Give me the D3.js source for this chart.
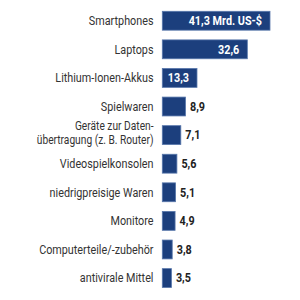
<!DOCTYPE html>
<html><head><meta charset="utf-8">
<script src="https://cdn.jsdelivr.net/npm/d3@7"></script>
<style>html,body{margin:0;padding:0;background:#fff;}svg{display:block;}</style>
</head><body>
<script>
const categories = [
  ["Smartphones"],
  ["Laptops"],
  ["Lithium-Ionen-Akkus"],
  ["Spielwaren"],
  ["Geräte zur Daten-", "übertragung (z. B. Router)"],
  ["Videospielkonsolen"],
  ["niedrigpreisige Waren"],
  ["Monitore"],
  ["Computerteile/-zubehör"],
  ["antivirale Mittel"]
];
const values = [41.3, 32.6, 13.3, 8.9, 7.1, 5.6, 5.1, 4.9, 3.8, 3.5];
const valueLabels = ["41,3 Mrd. US-$", "32,6", "13,3", "8,9", "7,1", "5,6", "5,1", "4,9", "3,8", "3,5"];

const W = 300, H = 300;
const svg = d3.select("body").append("svg").attr("width", W).attr("height", H);

const x = d3.scaleLinear().domain([0, 41.3]).range([162.3, 270]);
const y = d3.scaleBand().domain(d3.range(values.length)).range([11.3, 287.5]).paddingInner(0.34).paddingOuter(0);

const SX = 0.8;
const FS = 13.5;
const font = "Roboto, 'Noto Sans', sans-serif";

const g = svg.append("g");
const rows = g.selectAll("g.row").data(values).join("g").attr("class", "row");

rows.append("rect")
  .attr("x", x(0))
  .attr("y", (d, i) => y(i))
  .attr("width", d => x(d) - x(0))
  .attr("height", y.bandwidth())
  .attr("fill", "#1c3f7d")
  .attr("stroke", "#5877ab")
  .attr("stroke-width", 0.8);

// category labels
rows.each(function(d, i) {
  const lines = categories[i];
  const cy = y(i) + y.bandwidth() / 2;
  const multi = lines.length > 1;
  const lh = 14.5;
  const shift = multi ? -2 : 0;
  lines.forEach((t, k) => {
    const ly = cy + shift + (k - (lines.length - 1) / 2) * lh;
    d3.select(this).append("text")
      .attr("transform", `translate(153.5,${ly}) scale(${multi ? 0.83 : SX},1)`)
      .attr("text-anchor", "end")
      .attr("dy", "0.32em")
      .attr("font-family", font)
      .attr("font-size", multi ? 12.3 : FS)
      .attr("fill", "#333")
      .text(t);
  });
});

// value labels
rows.append("text")
  .attr("transform", (d, i) => {
    const cy = y(i) + y.bandwidth() / 2;
    const inside = d > 10;
    const xx = inside ? x(d) - 8 : x(d) + 4.5;
    return `translate(${xx},${cy}) scale(${SX},1)`;
  })
  .attr("text-anchor", d => d > 10 ? "end" : "start")
  .attr("dy", "0.32em")
  .attr("font-family", font)
  .attr("font-weight", "bold")
  .attr("font-size", FS)
  .attr("fill", d => d > 10 ? "#fff" : "#222")
  .text((d, i) => valueLabels[i]);
</script>
</body></html>
